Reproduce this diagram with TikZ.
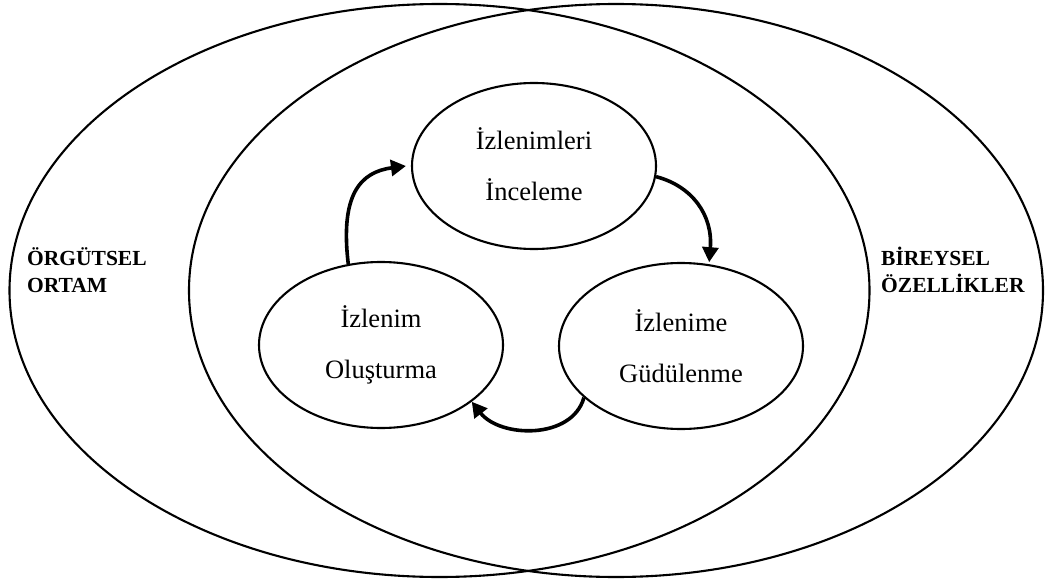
\documentclass[tikz,border=0pt]{standalone}
\usepackage{fontspec}
\setmainfont{Liberation Serif}
\usetikzlibrary{shapes.geometric,arrows.meta}
\tikzset{
  bigring/.style={draw, line width=2.1pt},
  stage/.style={draw, ellipse, line width=2.1pt, minimum width=244pt, minimum height=166pt, inner sep=0pt, align=center, font=\fontsize{26.5}{51}\selectfont},
  sidelabel/.style={anchor=west, align=left, inner sep=0pt, font=\bfseries\fontsize{21.5}{27}\selectfont},
  flow/.style={line width=3.6pt, -{Triangle[length=15pt,width=16pt]}}
}
\begin{document}
\begin{tikzpicture}[x=1pt,y=-1pt]
\useasboundingbox (0,0) rectangle (1046,583);
\draw[bigring] (439.5,290.5) ellipse [x radius=430pt, y radius=286.5pt];
\draw[bigring] (616,290.5) ellipse [x radius=427pt, y radius=286.5pt];
\node[stage] (T) at (534,166) {\raisebox{4pt}{İzlenimleri}\\\raisebox{4pt}{İnceleme}};
\node[stage] (L) at (381,345) {İzlenim\\Oluşturma};
\node[stage] (R) at (681,346) {İzlenime\\Güdülenme};
\node[sidelabel] (O) at (27,270) {ÖRGÜTSEL\\ORTAM};
\node[sidelabel] (B) at (881,270) {BİREYSEL\\ÖZELLİKLER};
\draw[flow] (L.112) .. controls (340,195) and (360,172) .. ([xshift=-5pt]T.west);
\draw[flow] (T.-5) .. controls (692,186) and (713,215) .. ([yshift=2pt]R.71);
\draw[flow] (R.208) .. controls (572,440) and (500,438) .. (L.-32);
\end{tikzpicture}
\end{document}
